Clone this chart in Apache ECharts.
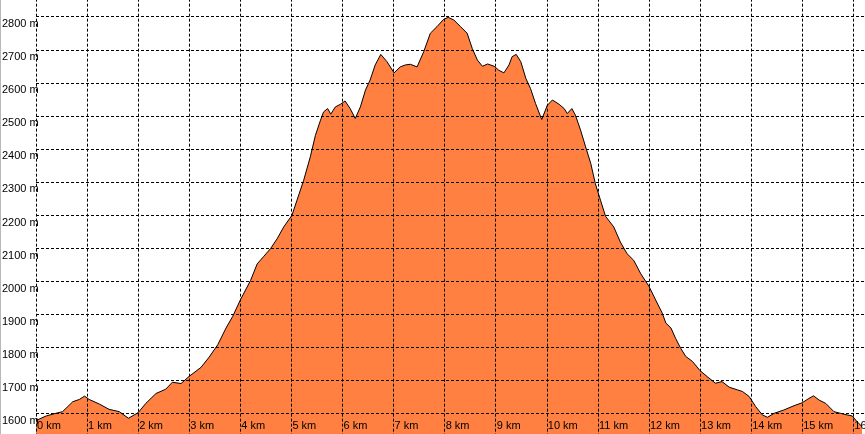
<!DOCTYPE html>
<html>
<head>
<meta charset="utf-8">
<script src="https://cdn.jsdelivr.net/npm/echarts@6/dist/echarts.min.js"></script>
<style>
html,body{margin:0;padding:0;background:#fff;}
#c{width:865px;height:434px;}
</style>
</head>
<body>
<div id="c"></div>
<script>
const distanceKm = [0, 0.2, 0.39, 0.52, 0.72, 0.85, 0.95, 1.04, 1.24, 1.43, 1.63, 1.81,
  2.0, 2.15, 2.35, 2.54, 2.67, 2.84, 3.0, 3.23, 3.39, 3.56, 3.72, 3.85,
  4.0, 4.2, 4.33, 4.46, 4.59, 4.72, 4.85, 5.01, 5.11, 5.24, 5.37, 5.47,
  5.57, 5.63, 5.71, 5.77, 5.86, 5.96, 6.05, 6.15, 6.25, 6.35, 6.45, 6.54,
  6.64, 6.75, 6.87, 7.01, 7.13, 7.23, 7.33, 7.46, 7.59, 7.72, 7.85, 7.98,
  8.07, 8.18, 8.31, 8.44, 8.54, 8.64, 8.74, 8.84, 8.97, 9.06, 9.16, 9.26,
  9.32, 9.40, 9.49, 9.59, 9.68, 9.78, 9.90, 10.01, 10.11, 10.24, 10.34, 10.40,
  10.49, 10.56, 10.66, 10.76, 10.86, 10.95, 11.05, 11.15, 11.31, 11.44, 11.57, 11.70,
  11.84, 12.0, 12.13, 12.26, 12.33, 12.43, 12.52, 12.62, 12.72, 12.85, 13.0, 13.14,
  13.30, 13.43, 13.57, 13.73, 13.83, 13.96, 14.09, 14.22, 14.32, 14.45, 14.64, 14.84,
  15.0, 15.13, 15.22, 15.33, 15.46, 15.62, 15.75, 15.88, 15.98, 16.07, 16.17];
const elevationM = [1578, 1592, 1600, 1605, 1635, 1642, 1652, 1642, 1628, 1612, 1605, 1585,
  1602, 1630, 1660, 1673, 1694, 1690, 1712, 1739, 1770, 1808, 1858, 1893,
  1943, 2002, 2052, 2075, 2098, 2128, 2164, 2199, 2245, 2305, 2376, 2441,
  2487, 2512, 2522, 2505, 2527, 2535, 2545, 2522, 2492, 2527, 2578, 2608,
  2654, 2686, 2664, 2630, 2648, 2654, 2656, 2648, 2694, 2750, 2770, 2792,
  2798, 2790, 2770, 2750, 2704, 2669, 2650, 2657, 2650, 2638, 2630, 2654,
  2679, 2686, 2664, 2613, 2583, 2537, 2489, 2532, 2548, 2535, 2522, 2507,
  2522, 2502, 2457, 2406, 2356, 2295, 2245, 2196, 2164, 2118, 2083, 2063,
  2022, 1984, 1943, 1903, 1873, 1858, 1827, 1797, 1772, 1757, 1729, 1711,
  1691, 1696, 1679, 1671, 1666, 1651, 1620, 1595, 1588, 1600, 1610, 1623,
  1632, 1645, 1653, 1640, 1630, 1605, 1600, 1595, 1592, 1575, 1560];
const xUnit = ' km';
const yUnit = ' m';

const chart = echarts.init(document.getElementById('c'), null, {renderer: 'canvas'});
const points = distanceKm.map((d, i) => [d, elevationM[i]]);
const gridLine = {show: true, lineStyle: {color: '#000', width: 1, type: [3, 2]}};
chart.setOption({
  animation: false,
  backgroundColor: '#fff',
  grid: {left: 36, right: -39.4, top: -16.35, bottom: -12.35, containLabel: false, outerBoundsMode: 'none'},
  xAxis: {
    type: 'value', min: 0, max: 17, interval: 1, z: 5, offset: -20,
    axisLine: {show: false}, axisTick: {show: false},
    splitLine: gridLine,
    axisLabel: {
      show: true, margin: 0, align: 'left', verticalAlign: 'middle', padding: [0, 0, 0, 1],
      fontFamily: 'Liberation Sans', fontSize: 11, color: '#000',
      formatter: v => v + xUnit
    }
  },
  yAxis: {
    type: 'value', min: 1500, max: 2900, interval: 100, z: 5,
    axisLine: {show: false}, axisTick: {show: false},
    splitLine: gridLine,
    axisLabel: {
      show: true, margin: 34, align: 'left', verticalAlign: 'top', padding: [2, 0, 0, 0],
      fontFamily: 'Liberation Sans', fontSize: 11, color: '#000',
      formatter: v => v + yUnit
    }
  },
  graphic: [{type: 'rect', left: 0, top: 0, shape: {width: 1, height: 434}, style: {fill: '#b8b8b8'}, z: 10}],
  series: [{
    type: 'line', data: points, symbol: 'none', smooth: false, z: 2,
    lineStyle: {color: '#000', width: 1},
    areaStyle: {color: '#ff8040', opacity: 1}
  }]
});
</script>
</body>
</html>
